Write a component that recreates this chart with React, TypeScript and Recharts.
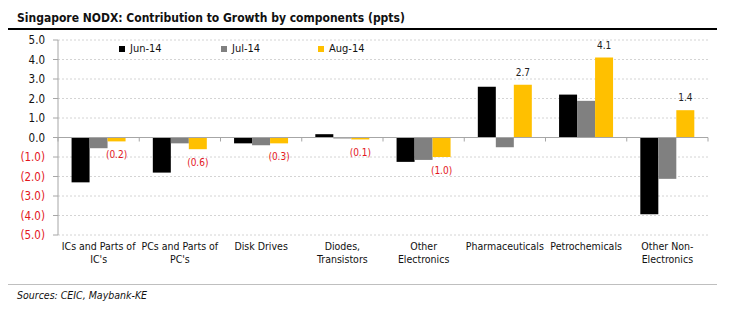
import {
  BarChart,
  Bar,
  XAxis,
  YAxis,
  CartesianGrid,
  ReferenceLine,
  LabelList,
} from "recharts";

const categories = [
  "ICs and Parts of\nIC's",
  "PCs and Parts of\nPC's",
  "Disk Drives",
  "Diodes,\nTransistors",
  "Other\nElectronics",
  "Pharmaceuticals",
  "Petrochemicals",
  "Other Non-\nElectronics",
];

const jun14 = [-2.3, -1.8, -0.3, 0.17, -1.25, 2.6, 2.2, -3.93];
const jul14 = [-0.55, -0.3, -0.4, -0.05, -1.15, -0.5, 1.88, -2.12];
const aug14 = [-0.2, -0.6, -0.3, -0.1, -1.0, 2.7, 4.1, 1.4];

const seriesNames = ["Jun-14", "Jul-14", "Aug-14"];
const yTicks = [-5, -4, -3, -2, -1, 0, 1, 2, 3, 4, 5];

const COLORS = ["#000000", "#808080", "#ffc000"];
const RED = "#e3161d";
const FONT = "'DejaVu Sans Condensed', 'DejaVu Sans', sans-serif";

const data = categories.map((c, i) => ({
  name: c,
  jun: jun14[i],
  jul: jul14[i],
  aug: aug14[i],
}));

const fmt = (v: number) =>
  v < 0 ? `(${Math.abs(v).toFixed(1)})` : v.toFixed(1);

const YTick = (props: any) => {
  const { x, y, payload } = props;
  const v = Number(payload.value);
  return (
    <text
      x={x}
      y={y}
      dy={4}
      textAnchor="end"
      fontSize={11.5}
      fontFamily={FONT}
      fill={v < 0 ? RED : "#111"}
    >
      {fmt(v)}
    </text>
  );
};

const XTick = (props: any) => {
  const { x, y, payload } = props;
  const lines = String(payload.value).split("\n");
  return (
    <text
      x={x}
      y={y}
      textAnchor="middle"
      fontSize={10.5}
      fontFamily={FONT}
      fill="#111"
    >
      {lines.map((l, i) => (
        <tspan key={i} x={x} dy={i === 0 ? 9 : 13}>
          {l}
        </tspan>
      ))}
    </text>
  );
};

const ZeroLine = (props: any) => {
  const { x1, x2, y1 } = props;
  const n = categories.length;
  const marks = [];
  for (let i = 0; i <= n; i++) {
    const x = x1 + ((x2 - x1) * i) / n;
    marks.push(
      <line key={i} x1={x} x2={x} y1={y1} y2={y1 + 4} stroke="#a6a6a6" />
    );
  }
  return (
    <g>
      <line x1={x1} x2={x2} y1={y1} y2={y1} stroke="#a6a6a6" strokeWidth={1.2} />
      {marks}
    </g>
  );
};

const AugLabel = (props: any) => {
  const { x, y, width, height, value } = props;
  const v = Number(value);
  const top = Math.min(y, y + height);
  const bottom = Math.max(y, y + height);
  const cx = x + width / 2;
  return (
    <text
      x={cx}
      y={v < 0 ? bottom + 17 : top - 9}
      textAnchor="middle"
      fontSize={10}
      fontFamily={FONT}
      fill={v < 0 ? RED : "#222"}
    >
      {fmt(v)}
    </text>
  );
};

const legendX = [119, 221, 318];

export default function App() {
  return (
    <div
      style={{
        position: "absolute",
        left: 0,
        top: 0,
        width: 733,
        height: 321,
        background: "#fff",
        fontFamily: FONT,
      }}
    >
      <div
        style={{
          position: "absolute",
          left: 17,
          top: 11,
          fontSize: 12,
          fontWeight: "bold",
          color: "#111",
          whiteSpace: "nowrap",
        }}
      >
        Singapore NODX: Contribution to Growth by components (ppts)
      </div>
      <div
        style={{
          position: "absolute",
          left: 8,
          top: 28,
          width: 709,
          height: 2,
          background: "#000",
        }}
      />
      <div style={{ position: "absolute", left: 0, top: 0 }}>
        <BarChart
          width={733}
          height={321}
          data={data}
          margin={{ top: 40, right: 25, left: 0, bottom: 46 }}
          barCategoryGap="16.7%"
          barGap={0}
        >
          <CartesianGrid
            vertical={false}
            stroke="#d4d4d4"
            strokeDasharray="2 2"
          />
          <XAxis
            dataKey="name"
            axisLine={false}
            tickLine={false}
            interval={0}
            height={40}
            tickMargin={0}
            tick={<XTick />}
          />
          <YAxis
            domain={[-5, 5]}
            ticks={yTicks}
            width={58}
            axisLine={{ stroke: "#a6a6a6" }}
            tickLine={{ stroke: "#a6a6a6" }}
            tickSize={5}
            tickMargin={8}
            interval={0}
            tick={<YTick />}
          />
          <ReferenceLine y={0} shape={<ZeroLine />} />
          <Bar dataKey="jun" name="Jun-14" fill={COLORS[0]} isAnimationActive={false} />
          <Bar dataKey="jul" name="Jul-14" fill={COLORS[1]} isAnimationActive={false} />
          <Bar dataKey="aug" name="Aug-14" fill={COLORS[2]} isAnimationActive={false}>
            <LabelList dataKey="aug" content={<AugLabel />} />
          </Bar>
        </BarChart>
      </div>
      {seriesNames.map((s, i) => (
        <div
          key={s}
          style={{
            position: "absolute",
            left: legendX[i],
            top: 42,
            display: "flex",
            alignItems: "center",
            fontSize: 11,
            color: "#111",
            whiteSpace: "nowrap",
          }}
        >
          <span
            style={{
              display: "inline-block",
              width: 6,
              height: 6,
              background: COLORS[i],
              marginRight: 5,
            }}
          />
          {s}
        </div>
      ))}
      <div
        style={{
          position: "absolute",
          left: 8,
          top: 284,
          width: 709,
          height: 1,
          background: "#bfbfbf",
        }}
      />
      <div
        style={{
          position: "absolute",
          left: 17,
          top: 289,
          fontSize: 10.5,
          fontStyle: "italic",
          color: "#111",
        }}
      >
        Sources: CEIC, Maybank-KE
      </div>
    </div>
  );
}
